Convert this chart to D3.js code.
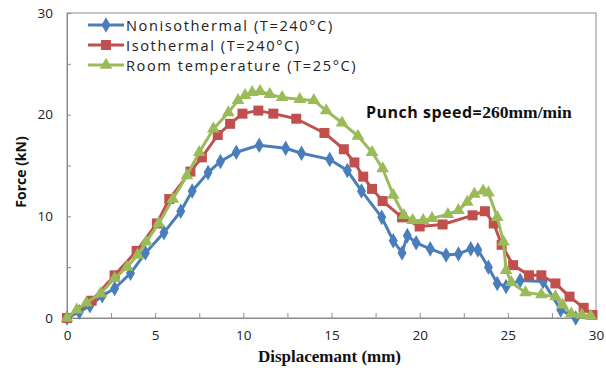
<!DOCTYPE html>
<html>
<head>
<meta charset="utf-8">
<script src="https://cdn.jsdelivr.net/npm/d3@7"></script>
<style>
  html, body { margin: 0; padding: 0; background: #fff; }
  svg { display: block; }
</style>
</head>
<body>
<svg id="chart" width="606" height="374"></svg>
<script>
// Punch force vs. displacement for three forming conditions
const seriesNames = ["Nonisothermal (T=240°C)", "Isothermal (T=240°C)", "Room temperature (T=25°C)"];
const seriesColors = ["#4a7ebb", "#c0504d", "#9bbb59"];
const seriesSymbols = ["diamond", "square", "triangle"];

const nonisothermal = [
  [0, 0], [0.7, 0.6], [1.3, 1.2], [2.0, 2.2], [2.7, 2.9], [3.6, 4.4], [4.45, 6.4],
  [5.5, 8.4], [6.45, 10.5], [7.1, 12.5], [8.0, 14.3], [8.7, 15.4], [9.6, 16.3],
  [10.9, 17.0], [12.4, 16.7], [13.3, 16.2], [14.9, 15.6], [15.9, 14.5], [16.7, 12.5],
  [17.85, 9.9], [18.5, 7.6], [19.0, 6.4], [19.3, 8.1], [19.8, 7.4], [20.6, 6.8],
  [21.5, 6.2], [22.2, 6.3], [22.9, 6.8], [23.3, 6.7], [23.9, 5.0], [24.4, 3.4],
  [24.9, 3.1], [25.7, 3.7], [27.0, 3.6], [28.0, 0.8], [28.85, 0]
];

const isothermal = [
  [0, 0], [1.4, 1.7], [2.7, 4.2], [3.95, 6.6], [5.1, 9.3], [5.8, 11.7], [7.0, 14.4],
  [7.65, 15.8], [8.55, 18.0], [9.25, 19.1], [9.95, 20.1], [10.85, 20.4], [11.7, 20.1],
  [13.0, 19.6], [14.6, 18.2], [15.7, 16.6], [16.3, 15.3], [16.8, 13.9], [17.3, 12.7],
  [17.9, 11.5], [19.0, 9.9], [20.0, 9.0], [21.3, 9.2], [23.0, 10.1], [23.7, 10.5],
  [24.2, 9.3], [24.65, 7.2], [25.3, 5.2], [26.2, 4.2], [26.9, 4.2], [27.7, 3.4],
  [28.5, 2.1], [29.3, 1.0], [29.8, 0.3]
];

const roomTemperature = [
  [0, 0], [0.55, 0.8], [1.1, 1.5], [1.9, 2.4], [2.7, 3.9], [3.4, 5.0], [4.0, 6.2],
  [4.5, 7.5], [5.2, 9.3], [6.0, 11.7], [6.8, 14.0], [7.5, 16.3], [8.3, 18.6],
  [9.15, 20.2], [9.7, 21.4], [10.1, 21.9], [10.5, 22.2], [10.95, 22.3], [11.5, 22.0],
  [12.2, 21.7], [13.2, 21.5], [14.0, 21.4], [14.7, 20.4], [15.6, 19.2], [16.5, 17.9],
  [17.3, 16.3], [17.9, 14.7], [18.5, 12.1], [19.1, 10.1], [19.6, 9.6], [20.2, 9.6],
  [20.7, 9.8], [21.6, 10.2], [22.2, 10.6], [22.7, 11.4], [23.1, 12.2], [23.6, 12.5],
  [23.9, 12.3], [24.4, 9.9], [24.75, 7.5], [24.9, 4.7], [25.2, 3.5], [26.0, 2.5],
  [26.9, 2.3], [27.7, 2.1], [28.1, 1.3], [28.6, 0.4], [29.2, 0.3], [29.7, 0.2]
];

const xTicks = [0, 5, 10, 15, 20, 25, 30];
const yTicks = [0, 10, 20, 30];
const xTitle = "Displacemant (mm)";
const yTitle = "Force (kN)";
const noteLabel = "Punch speed=";
const noteValue = "260mm/min";

const allSeries = [nonisothermal, isothermal, roomTemperature];

const svg = d3.select("#chart");
const W = 606, H = 374;
const margin = { left: 67, right: 10, top: 13, bottom: 56 };
const iw = W - margin.left - margin.right;
const ih = H - margin.top - margin.bottom;

const x = d3.scaleLinear().domain([0, 30]).range([0, iw]);
const y = d3.scaleLinear().domain([0, 30]).range([ih, 0]);

const g = svg.append("g").attr("transform", `translate(${margin.left},${margin.top})`);

// plot frame
g.append("rect")
  .attr("x", 0).attr("y", 0).attr("width", iw).attr("height", ih)
  .attr("fill", "none").attr("stroke", "#8c8c8c").attr("stroke-width", 1);

// x axis: labelled major ticks, inward minor ticks every 2.5
const xAxis = g.append("g").attr("transform", `translate(0,${ih})`)
  .call(d3.axisBottom(x).tickValues(d3.range(0, 30.01, 2.5)).tickSize(-5).tickPadding(12)
    .tickFormat(d => xTicks.includes(d) ? d3.format("d")(d) : ""));
xAxis.select(".domain").attr("stroke", "#8c8c8c");
xAxis.selectAll(".tick line").attr("stroke", "#8c8c8c");
xAxis.selectAll(".tick text")
  .attr("font-family", "'Open Sans', 'DejaVu Sans', sans-serif")
  .attr("font-size", 13.5).attr("fill", "#222");

// y axis: labelled major ticks, inward minor ticks every 5
const yAxis = g.append("g")
  .call(d3.axisLeft(y).tickValues(d3.range(0, 30.01, 5)).tickSize(-4).tickPadding(14)
    .tickFormat(d => yTicks.includes(d) ? d3.format("d")(d) : ""));
yAxis.select(".domain").attr("stroke", "#8c8c8c");
yAxis.selectAll(".tick line").attr("stroke", "#8c8c8c");
yAxis.selectAll(".tick text")
  .attr("font-family", "'Open Sans', 'DejaVu Sans', sans-serif")
  .attr("font-size", 13.5).attr("fill", "#222");

// axis titles
svg.append("text")
  .attr("x", margin.left + iw / 2 - 2).attr("y", 362)
  .attr("text-anchor", "middle")
  .attr("font-family", "'Liberation Serif', 'Times New Roman', serif")
  .attr("font-weight", "bold").attr("font-size", 17).attr("fill", "#111")
  .text(xTitle);

svg.append("text")
  .attr("transform", "translate(26,172) rotate(-90)")
  .attr("text-anchor", "middle")
  .attr("font-family", "'Open Sans', 'DejaVu Sans', sans-serif")
  .attr("font-weight", "bold").attr("font-size", 14).attr("fill", "#111")
  .text(yTitle);

// series lines and markers
const symbolTypes = { diamond: d3.symbolDiamond, square: d3.symbolSquare, triangle: d3.symbolTriangle };
const symbolSizes = { diamond: 70, square: 100, triangle: 70 };
const line = d3.line().x(d => x(d[0])).y(d => y(d[1]));

allSeries.forEach((data, i) => {
  const sg = g.append("g");
  sg.append("path")
    .datum(data)
    .attr("d", line)
    .attr("fill", "none")
    .attr("stroke", seriesColors[i])
    .attr("stroke-width", 3)
    .attr("stroke-linejoin", "round");
  const sym = d3.symbol().type(symbolTypes[seriesSymbols[i]]).size(symbolSizes[seriesSymbols[i]]);
  sg.selectAll("path.pt")
    .data(data)
    .join("path")
    .attr("class", "pt")
    .attr("transform", d => `translate(${x(d[0])},${y(d[1])})`)
    .attr("d", sym)
    .attr("fill", seriesColors[i]);
});

// legend
const legend = svg.append("g").attr("transform", "translate(88,25)");
seriesNames.forEach((name, i) => {
  const row = legend.append("g").attr("transform", `translate(0,${i * 20})`);
  row.append("line").attr("x1", 0).attr("x2", 36).attr("y1", 0).attr("y2", 0)
    .attr("stroke", seriesColors[i]).attr("stroke-width", 3);
  row.append("path")
    .attr("transform", "translate(18,0)")
    .attr("d", d3.symbol().type(symbolTypes[seriesSymbols[i]]).size(symbolSizes[seriesSymbols[i]])())
    .attr("fill", seriesColors[i]);
  row.append("text")
    .attr("x", 38).attr("y", 5.5)
    .attr("font-family", "'Open Sans', 'DejaVu Sans', sans-serif")
    .attr("font-size", 14.6).attr("letter-spacing", 1.6).attr("fill", "#222")
    .text(name);
});

// annotation
const note = svg.append("text")
  .attr("x", 366).attr("y", 118)
  .attr("font-weight", "bold").attr("fill", "#111");
note.append("tspan")
  .attr("font-family", "'Open Sans', 'DejaVu Sans', sans-serif")
  .attr("font-size", 16).attr("letter-spacing", 0.5)
  .text(noteLabel);
note.append("tspan")
  .attr("font-family", "'Liberation Serif', 'Times New Roman', serif")
  .attr("font-size", 17.5).attr("letter-spacing", 0)
  .text(noteValue);
</script>
</body>
</html>
